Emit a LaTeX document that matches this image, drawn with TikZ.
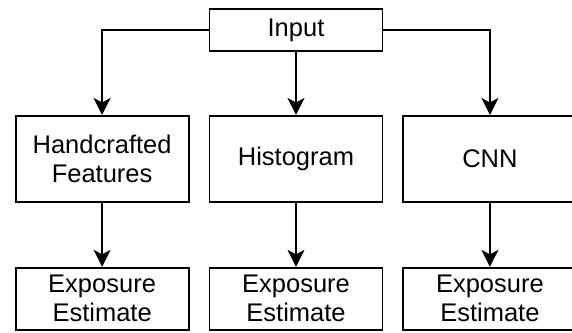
\documentclass[tikz,border=0pt]{standalone}
\usepackage{fontspec}
\setmainfont{Liberation Sans}
\usetikzlibrary{arrows.meta,positioning}

\begin{document}
\begin{tikzpicture}[>={Stealth[length=17pt,width=17pt,inset=4.5pt]},line width=1.9pt]
  \tikzstyle{box}=[draw,align=center,font=\fontsize{25.5}{29}\selectfont,minimum width=173pt,inner sep=0pt]
  \useasboundingbox (0,0) rectangle (572pt,-332pt);
  \node[box,minimum height=42pt] (input) at (296pt,-30pt) {Input};
  \node[box,minimum height=86pt,below=63pt of input] (hist) {Histogram};
  \node[box,minimum height=86pt,left=19pt of hist] (hand) {Handcrafted\\Features};
  \node[box,minimum height=86pt,right=19pt of hist] (cnn) {CNN};
  \node[box,minimum height=62pt,below=64pt of hand] (est1) {Exposure\\Estimate};
  \node[box,minimum height=62pt,below=64pt of hist] (est2) {Exposure\\Estimate};
  \node[box,minimum height=62pt,below=64pt of cnn] (est3) {Exposure\\Estimate};
  \draw[->] (input.west) -| (hand);
  \draw[->] (input) -- (hist);
  \draw[->] (input.east) -| (cnn);
  \draw[->] (hand) -- (est1);
  \draw[->] (hist) -- (est2);
  \draw[->] (cnn) -- (est3);
\end{tikzpicture}
\end{document}
